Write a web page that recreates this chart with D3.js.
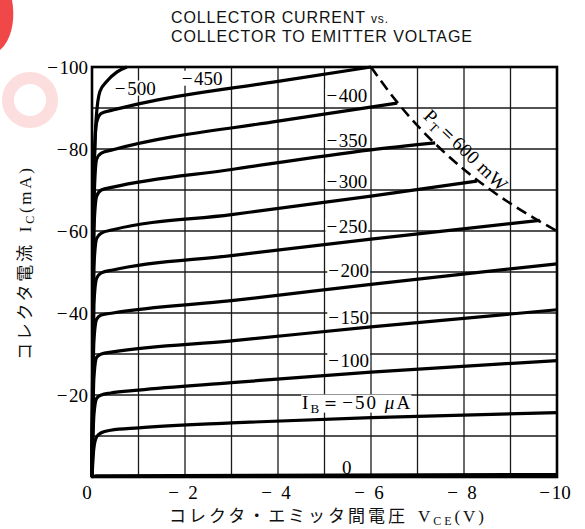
<!DOCTYPE html>
<html><head><meta charset="utf-8">
<script src="https://cdn.jsdelivr.net/npm/d3@7/dist/d3.min.js"></script>
<style>body{margin:0;background:#fff}svg{display:block}</style>
</head><body>
<svg id="c" width="585" height="529"></svg>
<script>
// ---- data (V_CE in volts, I_C in mA, both negative as on the chart) ----
const xTicks = [0, -2, -4, -6, -8, -10];
const yTicks = [-20, -40, -60, -80, -100];
const ibNames = ["0", "−50", "−100", "−150", "−200", "−250", "−300", "−350", "−400", "−450", "−500"];
const ib0   = [[0,0],[-0.1,-0.3],[-10,-0.6]];
const ib50  = [[0,0],[-0.04,-7],[-0.1,-9.8],[-0.2,-10.8],[-0.4,-11.4],[-1,-12.0],[-3,-13.2],[-6,-14.5],[-10,-15.7]];
const ib100 = [[0,0],[-0.04,-15],[-0.1,-19.2],[-0.2,-20.0],[-0.4,-20.5],[-1,-21.2],[-3,-23.0],[-6,-25.6],[-10,-28.4]];
const ib150 = [[0,0],[-0.04,-24],[-0.1,-29.2],[-0.2,-30.0],[-0.45,-30.5],[-3,-33.2],[-6,-36.6],[-10,-40.8]];
const ib200 = [[0,0],[-0.04,-33],[-0.1,-38.5],[-0.2,-39.5],[-0.45,-40.0],[-3,-43.0],[-6,-47.0],[-10,-52.0]];
const ib250 = [[0,0],[-0.04,-42],[-0.1,-48.5],[-0.2,-49.8],[-0.45,-50.5],[-3,-54.0],[-6,-58.0],[-9.63,-62.6]];
const ib300 = [[0,0],[-0.04,-51],[-0.1,-58.2],[-0.2,-59.5],[-0.45,-60.3],[-3,-64.0],[-6,-68.5],[-8.28,-72.2]];
const ib350 = [[0,0],[-0.04,-60],[-0.1,-68.5],[-0.2,-70.0],[-0.45,-70.7],[-3,-75.0],[-6,-79.8],[-7.38,-81.5]];
const ib400 = [[0,0],[-0.04,-66],[-0.1,-77.5],[-0.2,-79.0],[-0.45,-79.8],[-4,-86.8],[-6.56,-91.2]];
const ib450 = [[0,0],[-0.04,-74],[-0.1,-86.5],[-0.2,-88.7],[-0.45,-89.5],[-1,-91.0],[-4,-96.5],[-6,-100]];
const ib500 = [[0,0],[-0.03,-60],[-0.06,-80],[-0.09,-87.5],[-0.17,-94.0],[-0.32,-96.5],[-0.54,-98.8],[-0.75,-100]];
const ptLimit = [[-6,-100],[-6.5,-92.3],[-7,-85.7],[-7.5,-80],[-8,-75],[-8.5,-70.6],[-9,-66.7],[-9.5,-63.2],[-10,-60]];
// label anchors (data units): name, V, I
const labelAnchors = [
  ["−500", -0.93, -94.9], ["−450", -2.37, -97.3], ["−400", -5.48, -93.2],
  ["−350", -5.48, -82.2], ["−300", -5.48, -72.2], ["−250", -5.48, -61.2],
  ["−200", -5.52, -50.5], ["−150", -5.52, -39.0], ["−100", -5.52, -28.5]
];
const curves = [ib0, ib50, ib100, ib150, ib200, ib250, ib300, ib350, ib400, ib450, ib500];

// ---- drawing ----
const svg = d3.select("#c");
const x = d3.scaleLinear().domain([0, -10]).range([92, 557]);
const y = d3.scaleLinear().domain([0, -100]).range([477, 67]);
const serif = "'Liberation Serif', 'DejaVu Serif', serif";
const fmt = v => v === 0 ? "0" : (Math.abs(v) < 10 ? "−\u2002" + Math.abs(v) : "−\u200A" + Math.abs(v));

// watermark remnant at top-left
svg.append("circle").attr("cx", 30).attr("cy", 100).attr("r", 22)
  .attr("fill", "none").attr("stroke", "#fcdede").attr("stroke-width", 12);
svg.append("path").attr("d", "M0,0 L12,0 C15,16 13,34 4,46 L0,50 Z").attr("fill", "#f04848");

// title
const title = svg.append("g").attr("font-family", "'Liberation Sans', Arial, sans-serif").attr("fill", "#111");
title.append("text").attr("x", 171).attr("y", 23).attr("font-size", 16)
  .attr("textLength", 217).attr("lengthAdjust", "spacing")
  .html("COLLECTOR CURRENT <tspan font-size='12'>vs.</tspan>");
title.append("text").attr("x", 171).attr("y", 42).attr("font-size", 16)
  .attr("textLength", 301).attr("lengthAdjust", "spacing")
  .text("COLLECTOR TO EMITTER VOLTAGE");

// grid
const grid = svg.append("g").attr("stroke", "#1a1a1a").attr("stroke-width", 1.3);
grid.selectAll("line.v").data(d3.range(-1, -10, -1)).join("line")
  .attr("x1", d => x(d)).attr("x2", d => x(d)).attr("y1", y(0)).attr("y2", y(-100));
grid.selectAll("line.h").data(d3.range(-10, -100, -10)).join("line")
  .attr("x1", x(0)).attr("x2", x(-10)).attr("y1", d => y(d)).attr("y2", d => y(d));

// curves
const line = d3.line().x(d => x(d[0])).y(d => y(d[1])).curve(d3.curveMonotoneX);
svg.append("g").selectAll("path").data(curves).join("path")
  .attr("d", line).attr("fill", "none").attr("stroke", "#000").attr("stroke-width", 3.2)
  .attr("stroke-linejoin", "round");

// power limit
svg.append("path").datum(ptLimit).attr("d", d3.line().x(d => x(d[0])).y(d => y(d[1])).curve(d3.curveMonotoneX))
  .attr("fill", "none").attr("stroke", "#000").attr("stroke-width", 2.6).attr("stroke-dasharray", "11,6");

// frame
svg.append("rect").attr("x", x(0)).attr("y", y(-100)).attr("width", x(-10) - x(0)).attr("height", y(0) - y(-100))
  .attr("fill", "none").attr("stroke", "#000").attr("stroke-width", 2.6);

// curve labels with white background
function bgLabel(g, node) {
  const b = node.node().getBBox();
  g.insert("rect", () => node.node()).attr("x", b.x - 1).attr("y", b.y + 3).attr("width", b.width + 2).attr("height", b.height - 6)
    .attr("fill", "#fff");
}
const lab = svg.append("g").attr("font-family", serif).attr("font-size", 19).attr("fill", "#000");
labelAnchors.forEach(([t, v, i]) => {
  const g = lab.append("g");
  const tx = g.append("text").attr("x", x(v)).attr("y", y(i)).attr("dy", "0.35em").attr("text-anchor", "middle")
    .text(t.replace("−", "−\u200A"));
  bgLabel(g, tx);
});
{
  const g = lab.append("g");
  const tx = g.append("text").attr("x", x(-5.68)).attr("y", y(-18.3)).attr("dy", "0.35em").attr("text-anchor", "middle")
    .attr("textLength", 108).attr("lengthAdjust", "spacing")
    .html("I<tspan font-size='13' dy='4'>B</tspan><tspan dy='-4'>＝−50 </tspan><tspan font-style='italic'>μ</tspan>A");
  bgLabel(g, tx);
}
lab.append("text").attr("x", x(-5.48)).attr("y", y(-2.4)).attr("dy", "0.35em").attr("text-anchor", "middle").text(ibNames[0]);

// PT label
lab.append("text").attr("transform", "translate(466,150) rotate(44)").attr("text-anchor", "middle").attr("dy", "0.35em")
  .attr("textLength", 108).attr("lengthAdjust", "spacing")
  .html("P<tspan font-size='13' dy='4'>T</tspan><tspan dy='-4'>＝600 mW</tspan>");

// axes tick labels
const ax = svg.append("g").attr("font-family", serif).attr("font-size", 19).attr("fill", "#000");
ax.selectAll("text.x").data(xTicks).join("text")
  .attr("x", d => d === 0 ? x(d) - 5 : x(d) - 2).attr("y", 499).attr("text-anchor", "middle").text(fmt);
ax.selectAll("text.y").data(yTicks).join("text")
  .attr("x", 88).attr("y", d => y(d)).attr("dy", "0.35em").attr("text-anchor", "end").text(fmt);

// axis titles
const jp = "'Noto Sans CJK JP', sans-serif";
svg.append("text").attr("x", 169).attr("y", 522).attr("font-size", 17).attr("fill", "#111")
  .attr("textLength", 315).attr("lengthAdjust", "spacing")
  .html(`<tspan font-family="${jp}">コレクタ・エミッタ間電圧</tspan><tspan font-family="${serif}" dx="10">V</tspan><tspan font-family="${serif}" font-size="12" dy="3">CE</tspan><tspan font-family="${serif}" dy="-3">(V)</tspan>`);
svg.append("text").attr("transform", "translate(31,360) rotate(-90)").attr("font-size", 17).attr("fill", "#111")
  .attr("textLength", 192).attr("lengthAdjust", "spacing")
  .html(`<tspan font-family="${jp}">コレクタ電流</tspan><tspan font-family="${serif}" dx="10">I</tspan><tspan font-family="${serif}" font-size="12" dy="3">C</tspan><tspan font-family="${serif}" dy="-3">(mA)</tspan>`);
</script>
</body></html>
